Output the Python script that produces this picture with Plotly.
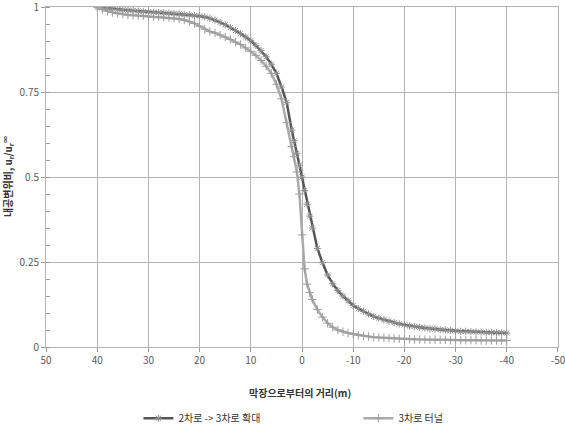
import plotly.graph_objects as go

x_vals = [40, 39, 38, 37, 36, 35, 34, 33, 32, 31, 30, 29, 28, 27, 26, 25, 24, 23, 22, 21,
          20, 19, 18, 17, 16, 15, 14, 13, 12, 11, 10, 9, 8, 7, 6, 5, 4, 3, 2, 1.5,
          1, 0.5, 0, -0.5, -1, -1.5, -2, -3, -4, -5, -6, -7, -8, -9, -10,
          -11, -12, -13, -14, -15, -16, -17, -18, -19, -20, -21, -22, -23, -24, -25,
          -26, -27, -28, -29, -30, -31, -32, -33, -34, -35, -36, -37, -38, -39, -40]

widen_vals = [1.000, 0.998, 0.996, 0.994, 0.993, 0.992, 0.991, 0.990, 0.988, 0.987,
              0.986, 0.985, 0.984, 0.983, 0.982, 0.981, 0.980, 0.978, 0.977, 0.975,
              0.974, 0.971, 0.967, 0.962, 0.955, 0.948, 0.940, 0.931, 0.922, 0.912,
              0.901, 0.887, 0.872, 0.854, 0.832, 0.805, 0.765, 0.720, 0.638, 0.607,
              0.570, 0.535, 0.500, 0.460, 0.420, 0.385, 0.350, 0.290, 0.248, 0.212,
              0.186, 0.166, 0.150, 0.136, 0.122,
              0.113, 0.105, 0.097, 0.090, 0.085, 0.080, 0.076, 0.072, 0.068, 0.065,
              0.062, 0.060, 0.058, 0.056, 0.054, 0.053, 0.051, 0.050, 0.049, 0.047,
              0.046, 0.046, 0.045, 0.044, 0.044, 0.043, 0.043, 0.042, 0.042, 0.041]

tunnel_vals = [1.000, 0.993, 0.988, 0.984, 0.981, 0.979, 0.977, 0.976, 0.975, 0.974,
               0.973, 0.972, 0.971, 0.970, 0.969, 0.967, 0.965, 0.962, 0.958, 0.952,
               0.944, 0.935, 0.928, 0.924, 0.918, 0.912, 0.905, 0.897, 0.890, 0.880,
               0.870, 0.858, 0.843, 0.826, 0.805, 0.773, 0.730, 0.660, 0.590, 0.560,
               0.515, 0.450, 0.330, 0.230, 0.185, 0.160, 0.140, 0.110, 0.088, 0.070,
               0.058, 0.050, 0.045, 0.041, 0.038,
               0.035, 0.033, 0.031, 0.029, 0.028, 0.027, 0.026, 0.025, 0.024, 0.023,
               0.023, 0.022, 0.022, 0.022, 0.021, 0.021, 0.021, 0.021, 0.020, 0.020,
               0.020, 0.020, 0.020, 0.020, 0.019, 0.019, 0.019, 0.019, 0.019, 0.019]

series_names = ["2차로 -> 3차로 확대", "3차로 터널"]
x_ticks = [50, 40, 30, 20, 10, 0, -10, -20, -30, -40, -50]
x_tick_text = ["50", "40", "30", "20", "10", "0", "-10", "-20", "-30", "-40", "-50"]

FONT = "Noto Sans CJK KR"
GRID = "#b3b3b3"

fig = go.Figure()
fig.add_trace(go.Scatter(
    x=x_vals, y=widen_vals, name=series_names[0], mode="lines+markers",
    line=dict(color="#555555", width=2.5),
    marker=dict(symbol="asterisk-open", size=6, color="#8f8f8f",
                line=dict(color="#8f8f8f", width=1)),
))
fig.add_trace(go.Scatter(
    x=x_vals, y=tunnel_vals, name=series_names[1], mode="lines+markers",
    line=dict(color="#aaaaaa", width=2.5),
    marker=dict(symbol="cross-thin-open", size=6, color="#9d9d9d",
                line=dict(color="#9d9d9d", width=1)),
))

fig.update_layout(
    width=565, height=429,
    margin=dict(l=46, r=7, t=7, b=82, autoexpand=False),
    paper_bgcolor="white", plot_bgcolor="white",
    font=dict(family=FONT, size=10, color="#595959"),
    showlegend=True,
    legend=dict(orientation="h", xref="container", yref="container",
                x=0.245, y=0.025, xanchor="left", yanchor="middle",
                entrywidth=175, itemwidth=30,
                font=dict(family=FONT, size=10, color="#333333")),
    xaxis=dict(range=[50.01, -50.01], tickmode="array", tickvals=x_ticks,
               ticktext=x_tick_text,
               showgrid=True, gridcolor=GRID, gridwidth=1,
               showline=True, linecolor=GRID, linewidth=1, mirror=True,
               ticks="outside", ticklen=4, tickcolor="#9a9a9a",
               ticklabeloverflow="allow", automargin=False,
               zeroline=False, fixedrange=True),
    yaxis=dict(range=[0, 1.0003], tickmode="linear", tick0=0, dtick=0.25,
               showgrid=True, gridcolor=GRID, gridwidth=1,
               showline=True, linecolor=GRID, linewidth=1, mirror=True,
               ticks="outside", ticklen=4, tickcolor="#9a9a9a",
               ticklabeloverflow="allow", automargin=False,
               minor=dict(tick0=0, dtick=0.05, ticks="inside", ticklen=4,
                          tickcolor="#9a9a9a", showgrid=False),
               zeroline=False, fixedrange=True),
    annotations=[
        dict(text="<b>막장으로부터의 거리(m)</b>", xref="paper", yref="paper",
             x=0.496, y=-0.135, showarrow=False, xanchor="center", yanchor="middle",
             font=dict(family=FONT, size=10, color="#333333")),
        dict(text="<b>내공변위비, u<sub>r</sub>/u<sub>r</sub><sup>∞</sup></b>",
             xref="paper", yref="paper", x=-0.074, y=0.5, textangle=-90,
             showarrow=False, xanchor="center", yanchor="middle",
             font=dict(family=FONT, size=10, color="#333333")),
    ],
)

fig.write_html("out.html")
